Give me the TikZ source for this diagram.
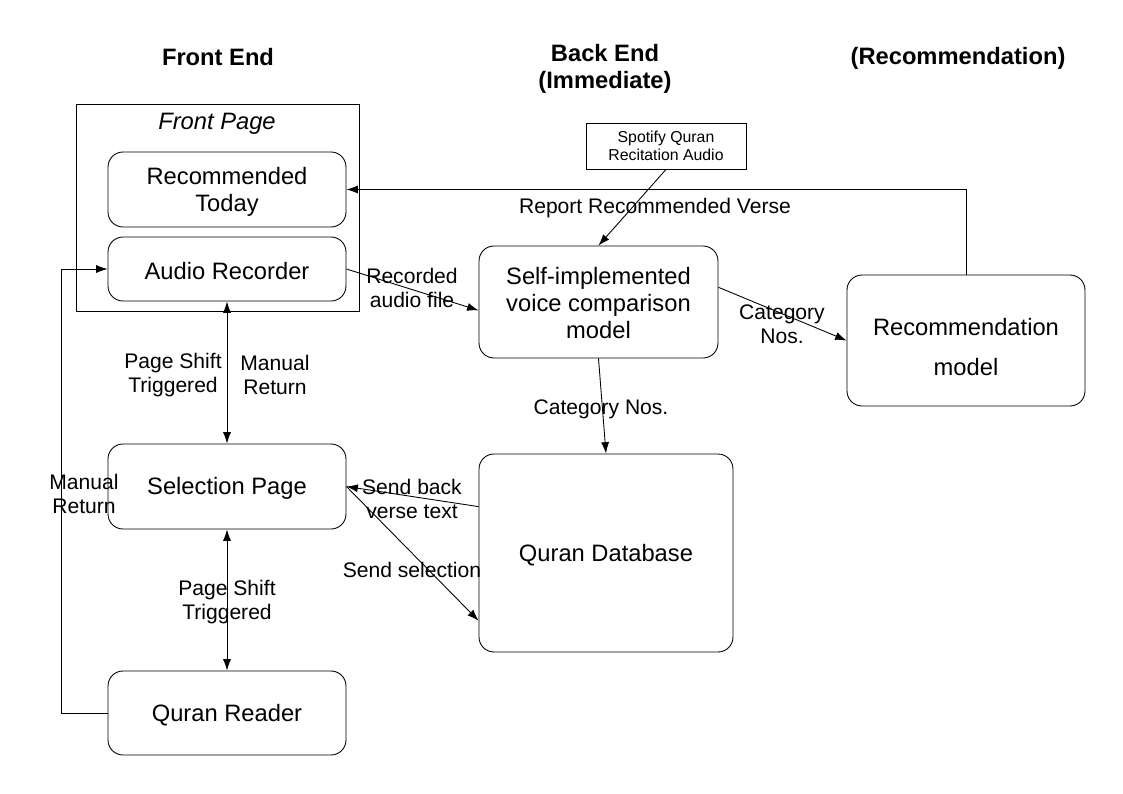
\documentclass[tikz,border=0pt]{standalone}
\usepackage{fontspec}
\setmainfont{Liberation Sans}
\usetikzlibrary{arrows, arrows.meta}
\usetikzlibrary{positioning}
\newcommand{\boxstrut}[1]{\rule{0pt}{#1}}

\tikzset{
box/.style={draw, rounded corners=8.5pt, align=center, line width=0.5pt,
  font=\fontsize{13.5}{15.3}\selectfont, execute at begin node=\boxstrut{12pt}},
lbl/.style={align=center, inner sep=0pt, yshift=-1.3pt, font=\fontsize{12}{13.6}\selectfont},
ttl/.style={align=center, inner sep=0pt, font=\fontsize{13.5}{15.3}\selectfont\bfseries},
conn/.style={line width=0.5pt, -{Latex[length=6.5pt,width=4.6pt]}},
both/.style={line width=0.5pt, {Latex[length=6.5pt,width=4.6pt]}-{Latex[length=6.5pt,width=4.6pt]}},
}

\begin{document}
\begin{tikzpicture}[x=0.02cm, y=-0.02cm]
\useasboundingbox (0,0) rectangle (1123,794);

\node[ttl] (tfront) at (218,57) {Front End};
\node[ttl] (tback) at (605,68.5) {Back End\\(Immediate)};
\node[ttl] (trec) at (958,58) {(Recommendation)};

\node[draw, line width=0.5pt, minimum width=5.66cm, minimum height=4.14cm] (frontpage) at (217.5,207.5) {};
\node[lbl, font=\fontsize{13.5}{15.3}\selectfont\itshape] (tpage) at (217,122) {Front Page};

\node[box, minimum width=4.76cm, minimum height=1.5cm] (rectoday) at (227,189.5) {\boxstrut{12pt}Recommended\\Today};
\node[box, minimum width=4.76cm, minimum height=1.28cm] (recorder) at (227,269) {Audio Recorder};
\node[box, minimum width=4.76cm, minimum height=1.7cm] (selection) at (227,486.5) {Selection Page};
\node[box, minimum width=4.76cm, minimum height=1.68cm] (reader) at (227,713) {Quran Reader};

\node[box, minimum width=4.78cm, minimum height=2.24cm] (compare) at (598.5,302) {\boxstrut{11pt}Self-implemented\\voice comparison\\model};
\node[box, minimum width=4.76cm, minimum height=2.62cm, font=\fontsize{13.5}{22.7}\selectfont] (recmodel) at (966,340.5) {\boxstrut{17.3pt}Recommendation\\model};
\node[box, minimum width=5.08cm, minimum height=3.96cm] (database) at (606,553) {Quran Database};
\node[draw, line width=0.5pt, align=center, minimum width=3.2cm, minimum height=0.92cm, font=\fontsize{9}{10.2}\selectfont] (spotify) at (666,146) {Spotify Quran\\Recitation Audio};

\draw[conn] (recorder.east) -- (compare.184);
\draw[conn] (spotify.south) -- (compare.north);
\draw[conn] (recmodel.north) |- (rectoday.east);
\draw[conn] (compare.7) -- (recmodel.west);
\draw[conn] (compare.south) -- (database.north);
\draw[both] (recorder.south) -- (selection.north);
\draw[both] (selection.south) -- (reader.north);
\draw[conn] (database.160) -- (selection.east);
\draw[conn] (selection.east) -- (database.208);
\draw[conn] (reader.west) -- ++(-46,0) |- (recorder.west);

\node[lbl] (lrecorded) at (412,286) {Recorded\\audio file};
\node[lbl] (lreport) at (655,206) {Report Recommended Verse};
\node[lbl] (lcat) at (782,322) {Category\\Nos.};
\node[lbl] (lcatdb) at (601,407) {Category Nos.};
\node[lbl] (lshift) at (173,373) {Page Shift\\Triggered};
\node[lbl] (lreturn) at (275,373) {Manual\\Return};
\node[lbl] (lshiftb) at (227,600) {Page Shift\\Triggered};
\node[lbl] (lsendback) at (412,497) {Send back\\verse text};
\node[lbl] (lsendsel) at (412,568) {Send selection};
\node[lbl] (lmanual) at (84,492) {Manual\\Return};
\end{tikzpicture}
\end{document}
